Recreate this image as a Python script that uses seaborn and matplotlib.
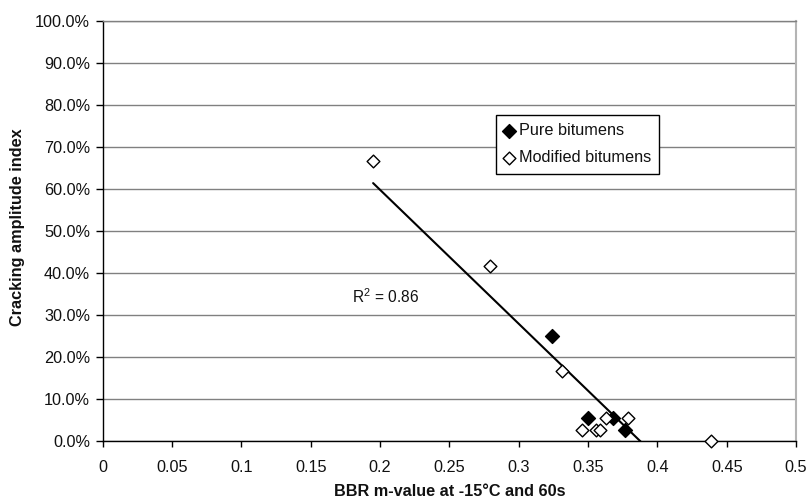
import numpy as np
import pandas as pd
import matplotlib
matplotlib.use("Agg")
import matplotlib.pyplot as plt
from matplotlib.ticker import PercentFormatter, FuncFormatter, MultipleLocator
import seaborn as sns

# Data (m-value, cracking amplitude index in %)
pure_m = [0.324, 0.350, 0.368, 0.377]
pure_idx = [25.0, 5.6, 5.6, 2.8]
mod_m = [0.195, 0.279, 0.3315, 0.363, 0.379, 0.346, 0.356, 0.3585, 0.439]
mod_idx = [66.7, 41.7, 16.7, 5.6, 5.6, 2.8, 2.8, 2.8, 0.0]
series_labels = ["Pure bitumens", "Modified bitumens"]
r2_text = "R$^2$ = 0.86"
x_label = "BBR m-value at -15°C and 60s"
y_label = "Cracking amplitude index"

sns.set_style("white")
plt.rcParams["font.family"] = ["Liberation Sans", "DejaVu Sans"]
plt.rcParams["mathtext.fontset"] = "custom"
plt.rcParams["mathtext.rm"] = "Liberation Sans"

fig = plt.figure(figsize=(8.07, 5.01), dpi=100)
ax = fig.add_axes([0.1273, 0.1188, 0.8591, 0.8393])

all_df = pd.DataFrame({"m": pure_m + mod_m, "idx": pure_idx + mod_idx})
sns.regplot(data=all_df, x="m", y="idx", scatter=False, ci=None, truncate=True,
            color="black", line_kws={"lw": 1.5, "zorder": 2}, ax=ax)

sns.scatterplot(x=pure_m, y=pure_idx, marker="D", s=50, color="black",
                edgecolor="black", linewidth=1, label=series_labels[0], ax=ax, zorder=3)
sns.scatterplot(x=mod_m, y=mod_idx, marker="D", s=42, color="white",
                edgecolor="black", linewidth=1, label=series_labels[1], ax=ax, zorder=3,
                clip_on=False)

ax.set_xlim(0, 0.5)
ax.set_ylim(0, 100)
ax.xaxis.set_major_locator(MultipleLocator(0.05))
ax.yaxis.set_major_locator(MultipleLocator(10))
ax.xaxis.set_major_formatter(FuncFormatter(lambda v, p: f"{round(v, 2):g}"))
ax.yaxis.set_major_formatter(PercentFormatter(xmax=100, decimals=1))

ax.yaxis.grid(True, color="#808080", lw=1)
ax.xaxis.grid(False)
ax.set_axisbelow(True)

for s in ["left", "bottom"]:
    ax.spines[s].set_color("black")
    ax.spines[s].set_linewidth(1)
ax.spines["top"].set_color("#808080")
ax.spines["top"].set_linewidth(1)
ax.spines["right"].set_color("#b4b4b4")
ax.spines["right"].set_linewidth(1.5)

ax.tick_params(axis="x", direction="out", length=4, width=1, color="black",
               labelsize=11.7, pad=9, bottom=True, labelcolor="#111111")
ax.tick_params(axis="y", direction="out", length=5, width=1, color="black",
               labelsize=11.7, pad=4, left=True, labelcolor="#111111")

ax.set_xlabel(x_label, fontsize=11.7, fontweight="bold", color="#111111")
ax.set_ylabel(y_label, fontsize=11.7, fontweight="bold", color="#111111")
ax.xaxis.set_label_coords(0.5, -0.102)
ax.yaxis.set_label_coords(-0.112, 0.51)

ax.text(0.18, 34.5, r2_text, fontsize=11.2, va="center", ha="left", color="#111111")

leg = ax.legend(loc="upper left", bbox_to_anchor=(0.567, 0.776), borderaxespad=0,
                fancybox=False, framealpha=1, edgecolor="black", fontsize=11.7,
                handlelength=0.6, handletextpad=0.3, labelspacing=0.75,
                borderpad=0.5)
leg.get_frame().set_linewidth(1)
for t in leg.get_texts():
    t.set_color("#111111")

fig.savefig("out.png", dpi=100)
